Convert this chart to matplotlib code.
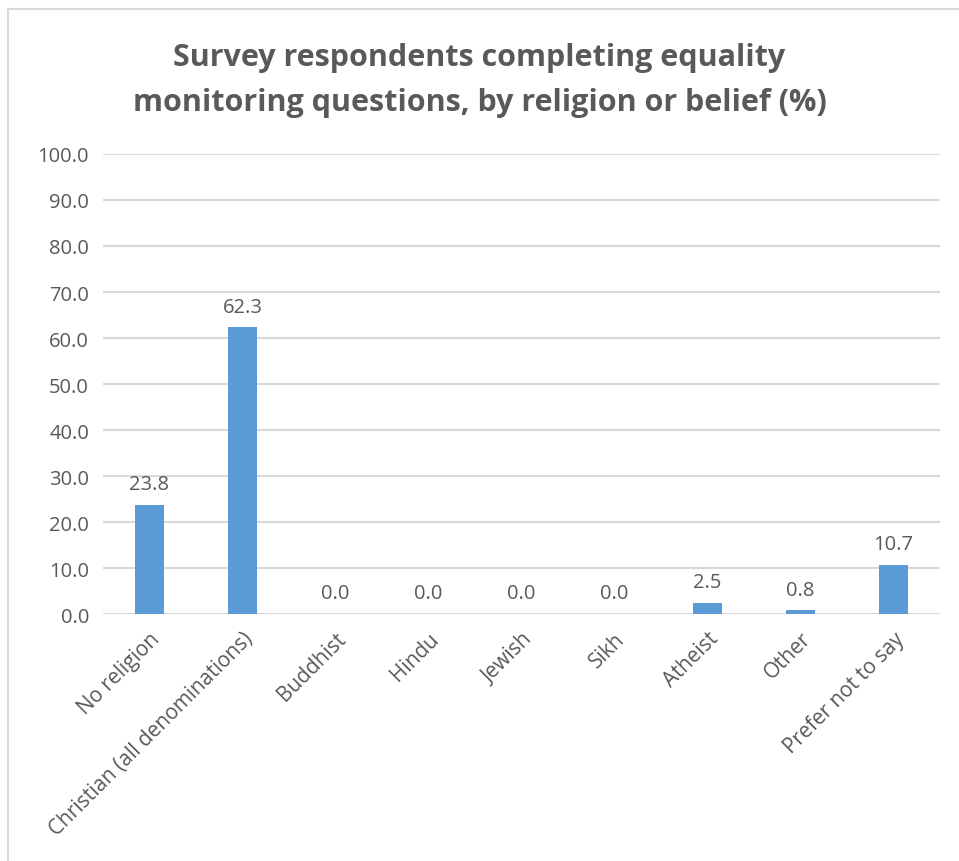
import matplotlib.pyplot as plt
import numpy as np
from matplotlib.patches import Rectangle

categories = ['No religion', 'Christian (all denominations)', 'Buddhist', 'Hindu',
              'Jewish', 'Sikh', 'Atheist', 'Other', 'Prefer not to say']
values = [23.8, 62.3, 0.0, 0.0, 0.0, 0.0, 2.5, 0.8, 10.7]

plt.rcParams['font.family'] = ['Open Sans', 'DejaVu Sans']
grey = '#595959'

fig = plt.figure(figsize=(9.59, 8.62), dpi=100)
fig.patches.append(Rectangle((8 / 959, -0.1), 1.2, 1 - 10 / 862 + 0.1, transform=fig.transFigure,
                             fill=False, edgecolor='#D9D9D9', linewidth=1.5))
ax = fig.add_axes([0.1074, 0.2865, 0.8728, 0.5337])

x = np.arange(len(categories))
bars = ax.bar(x, values, width=0.32, color='#5B9BD5', zorder=3)
for b, v in zip(bars, values):
    ax.text(b.get_x() + b.get_width() / 2, v + 2.3, f'{v:.1f}', ha='center', va='bottom',
            fontsize=14.5, color=grey)

ax.set_ylim(0, 100)
ax.set_xlim(-0.5, len(categories) - 0.5)
ax.set_yticks(np.arange(0, 101, 10))
ax.set_yticklabels([f'{t:.1f}' for t in np.arange(0, 101, 10)], fontsize=14.5, color=grey)
ax.set_xticks(x)
ax.set_xticklabels(categories, rotation=45, ha='right', rotation_mode='anchor',
                   fontsize=15, color=grey)
ax.tick_params(length=0, pad=10)
ax.tick_params(axis='x', pad=10)
ax.grid(axis='y', color='#D9D9D9', linewidth=1.5, zorder=0)
for s in ax.spines.values():
    s.set_visible(False)

fig.text(0.5, 0.907, 'Survey respondents completing equality\nmonitoring questions, by religion or belief (%)',
         ha='center', va='center', fontsize=22, fontweight='bold', color=grey, linespacing=1.65)

plt.savefig('out.png', dpi=100)
